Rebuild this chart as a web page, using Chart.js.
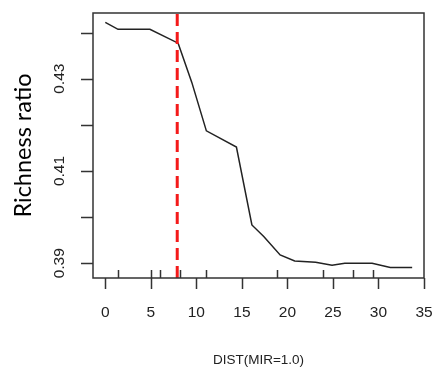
<!DOCTYPE html>
<html>
<head>
<meta charset="utf-8">
<script src="https://cdn.jsdelivr.net/npm/chart.js@4"></script>
<style>
  html, body { margin: 0; padding: 0; background: #fff; }
  #wrap { width: 435px; height: 370px; }
</style>
</head>
<body>
<div id="wrap"><canvas id="richChart" width="435" height="370"></canvas></div>
<script>
// distance values and richness ratio
const distValues = [0, 1.4, 4.9, 8.0, 9.5, 11.1, 14.4, 16.1, 17.4, 19.2, 20.8, 23.1, 24.9, 26.3, 29.3, 31.3, 33.7];
const richValues = [0.4422, 0.4407, 0.4407, 0.4377, 0.4292, 0.4187, 0.4152, 0.3983, 0.3958, 0.3918, 0.3905, 0.3902, 0.3896, 0.3900, 0.3900, 0.3891, 0.3891];

// rug marks along the bottom axis
const rugValues = [1.4, 5.0, 6.0, 8.2, 11.1, 18.9, 23.9, 27.2, 29.4];

// vertical cutoff
const cutoff = 7.9;

const xTicks = [0, 5, 10, 15, 20, 25, 30, 35];
const yTicks = [0.39, 0.40, 0.41, 0.42, 0.43, 0.44];
const yTickLabels = ['0.39', '', '0.41', '', '0.43', ''];

const xRange = [-1.35, 35];
const yRange = [0.38681, 0.44424];

const curve = distValues.map((d, i) => ({ x: d, y: richValues[i] }));

const axisColor = '#333';
const tickFont = "15.5px 'Liberation Sans', Arial, sans-serif";

// R-style box, ticks and labels drawn off the chart's own scales
const rAxes = {
    id: 'rAxes',
    afterDraw(chart) {
        const ctx = chart.ctx;
        const a = chart.chartArea;
        const xs = chart.scales.x;
        const ys = chart.scales.y;
        ctx.save();
        ctx.strokeStyle = axisColor;
        ctx.lineWidth = 1.5;
        ctx.strokeRect(a.left, a.top, a.right - a.left, a.bottom - a.top);

        // x ticks
        ctx.beginPath();
        xTicks.forEach(v => {
            const px = Math.round(xs.getPixelForValue(v)) + 0.5;
            ctx.moveTo(px, a.bottom);
            ctx.lineTo(px, a.bottom + 11);
        });
        // rug
        rugValues.forEach(v => {
            const px = Math.round(xs.getPixelForValue(v)) + 0.5;
            ctx.moveTo(px, a.bottom);
            ctx.lineTo(px, a.bottom - 8);
        });
        // y ticks
        yTicks.forEach(v => {
            const py = Math.round(ys.getPixelForValue(v)) + 0.5;
            ctx.moveTo(a.left, py);
            ctx.lineTo(a.left - 12, py);
        });
        ctx.stroke();

        ctx.fillStyle = '#222';
        ctx.font = tickFont;
        ctx.textAlign = 'center';
        ctx.textBaseline = 'middle';
        xTicks.forEach(v => {
            ctx.fillText(String(v), xs.getPixelForValue(v), a.bottom + 35);
        });
        yTicks.forEach((v, i) => {
            if (!yTickLabels[i]) return;
            ctx.save();
            ctx.translate(60, ys.getPixelForValue(v));
            ctx.rotate(-Math.PI / 2);
            ctx.fillText(yTickLabels[i], 0, 0);
            ctx.restore();
        });

        // axis titles
        ctx.font = "13.5px 'Liberation Sans', Arial, sans-serif";
        ctx.fillText('DIST(MIR=1.0)', (a.left + a.right) / 2, 360);

        ctx.save();
        ctx.fillStyle = '#000';
        ctx.font = "23.5px Lato, 'Noto Sans', sans-serif";
        ctx.translate(23, (a.top + a.bottom) / 2);
        ctx.rotate(-Math.PI / 2);
        ctx.fillText('Richness ratio', 0, 0);
        ctx.restore();

        ctx.restore();
    }
};

new Chart(document.getElementById('richChart').getContext('2d'), {
    type: 'line',
    data: {
        datasets: [
            {
                label: 'cutoff',
                data: [{ x: cutoff, y: yRange[0] }, { x: cutoff, y: yRange[1] }],
                borderColor: '#f41a1a',
                borderWidth: 3,
                borderDash: [12, 6],
                pointRadius: 0,
                order: 0
            },
            {
                label: 'Richness ratio',
                data: curve,
                borderColor: '#222',
                borderWidth: 1.5,
                pointRadius: 0,
                tension: 0,
                order: 1
            }
        ]
    },
    options: {
        responsive: false,
        animation: false,
        layout: {
            padding: { left: 93, top: 13, right: 11, bottom: 92 }
        },
        plugins: {
            legend: { display: false },
            tooltip: { enabled: false }
        },
        scales: {
            x: { type: 'linear', min: xRange[0], max: xRange[1], display: false },
            y: { type: 'linear', min: yRange[0], max: yRange[1], display: false }
        }
    },
    plugins: [rAxes]
});
</script>
</body>
</html>
